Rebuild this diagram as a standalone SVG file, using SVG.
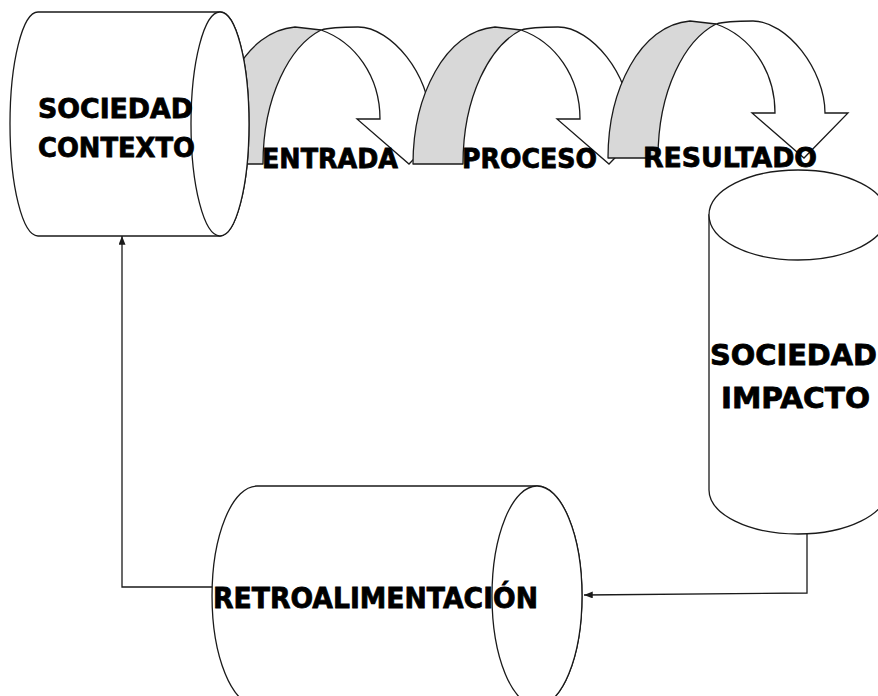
<svg xmlns="http://www.w3.org/2000/svg" width="878" height="696" viewBox="0 0 878 696">
  <style>
    .ln { fill: none; stroke: #1a1a1a; stroke-width: 1.3; }
    .body { fill: #ffffff; stroke: #1a1a1a; stroke-width: 1.3; }
    .back { fill: #d8d8d8; stroke: #1a1a1a; stroke-width: 1.3; stroke-linejoin: round; }
    .front { fill: #ffffff; stroke: #1a1a1a; stroke-width: 1.3; stroke-linejoin: miter; }
    .lbl { font-family: "DejaVu Sans", Verdana, sans-serif; font-weight: bold; fill: #000000; stroke: #000000; stroke-width: 0.8; }
  </style>
  <defs>
    <marker id="head" viewBox="0 0 10 8" refX="10" refY="4" markerWidth="9" markerHeight="7" markerUnits="userSpaceOnUse" orient="auto">
      <path d="M0,0 L10,4 L0,8 Z" fill="#1a1a1a"/>
    </marker>
    <!-- curved down arrow: shaded back band + white front with head -->
    <g id="curvedArrow">
      <path class="back" d="M608,158 C608,90 640,25 690,21 L716,24 C685,40 658,90 658,158 Z"/>
      <path class="front" d="M716,24 C726,21 740,21 753,21 C787,21 825,70 825,113 L848,113 L804,158 L752,113 L775,113 C775,70 750,36 716,24 Z"/>
    </g>
  </defs>

  <!-- process arrows -->
  <g id="arrow-entrada">
    <use href="#curvedArrow" transform="translate(-395,6)"/>
  </g>
  <g id="arrow-proceso">
    <use href="#curvedArrow" transform="translate(-195,6)"/>
  </g>
  <g id="arrow-resultado">
    <use href="#curvedArrow"/>
  </g>

  <!-- feedback connectors -->
  <g id="connectors">
    <polyline class="ln" points="807,532 807,593 584,595" marker-end="url(#head)"/>
    <polyline class="ln" points="213,587 122,587 122,236" marker-end="url(#head)"/>
  </g>

  <!-- SOCIEDAD CONTEXTO (horizontal cylinder) -->
  <g id="sociedad-contexto">
    <path class="body" d="M38,12 L220,12 A29,112 0 0 1 220,236 L38,236 A28,112 0 0 1 38,12 Z"/>
    <ellipse class="body" cx="220" cy="124" rx="29" ry="112"/>
    <text class="lbl" x="38" y="118" font-size="27" textLength="155" lengthAdjust="spacingAndGlyphs">SOCIEDAD</text>
    <text class="lbl" x="38" y="157" font-size="27" textLength="157" lengthAdjust="spacingAndGlyphs">CONTEXTO</text>
  </g>

  <!-- SOCIEDAD IMPACTO (vertical cylinder) -->
  <g id="sociedad-impacto">
    <path class="body" d="M709,215 L709,490 A89,44 0 0 0 887,490 L887,215 Z"/>
    <ellipse class="body" cx="798" cy="215" rx="89" ry="45"/>
    <text class="lbl" x="710" y="365" font-size="29" textLength="167" lengthAdjust="spacingAndGlyphs">SOCIEDAD</text>
    <text class="lbl" x="721" y="408" font-size="29" textLength="149" lengthAdjust="spacingAndGlyphs">IMPACTO</text>
  </g>

  <!-- RETROALIMENTACIÓN (horizontal cylinder) -->
  <g id="retroalimentacion">
    <path class="body" d="M257,486 L537,486 A45,110 0 0 1 537,706 L257,706 A45,110 0 0 1 257,486 Z"/>
    <ellipse class="body" cx="537" cy="596" rx="45" ry="110"/>
    <text class="lbl" x="213" y="608" font-size="29" textLength="325" lengthAdjust="spacingAndGlyphs">RETROALIMENTACIÓN</text>
  </g>

  <!-- stage labels -->
  <g id="labels">
    <text class="lbl" x="262" y="168" font-size="27" textLength="136" lengthAdjust="spacingAndGlyphs">ENTRADA</text>
    <text class="lbl" x="462" y="168" font-size="27" textLength="135" lengthAdjust="spacingAndGlyphs">PROCESO</text>
    <text class="lbl" x="643" y="167" font-size="27" textLength="174" lengthAdjust="spacingAndGlyphs">RESULTADO</text>
  </g>
</svg>
